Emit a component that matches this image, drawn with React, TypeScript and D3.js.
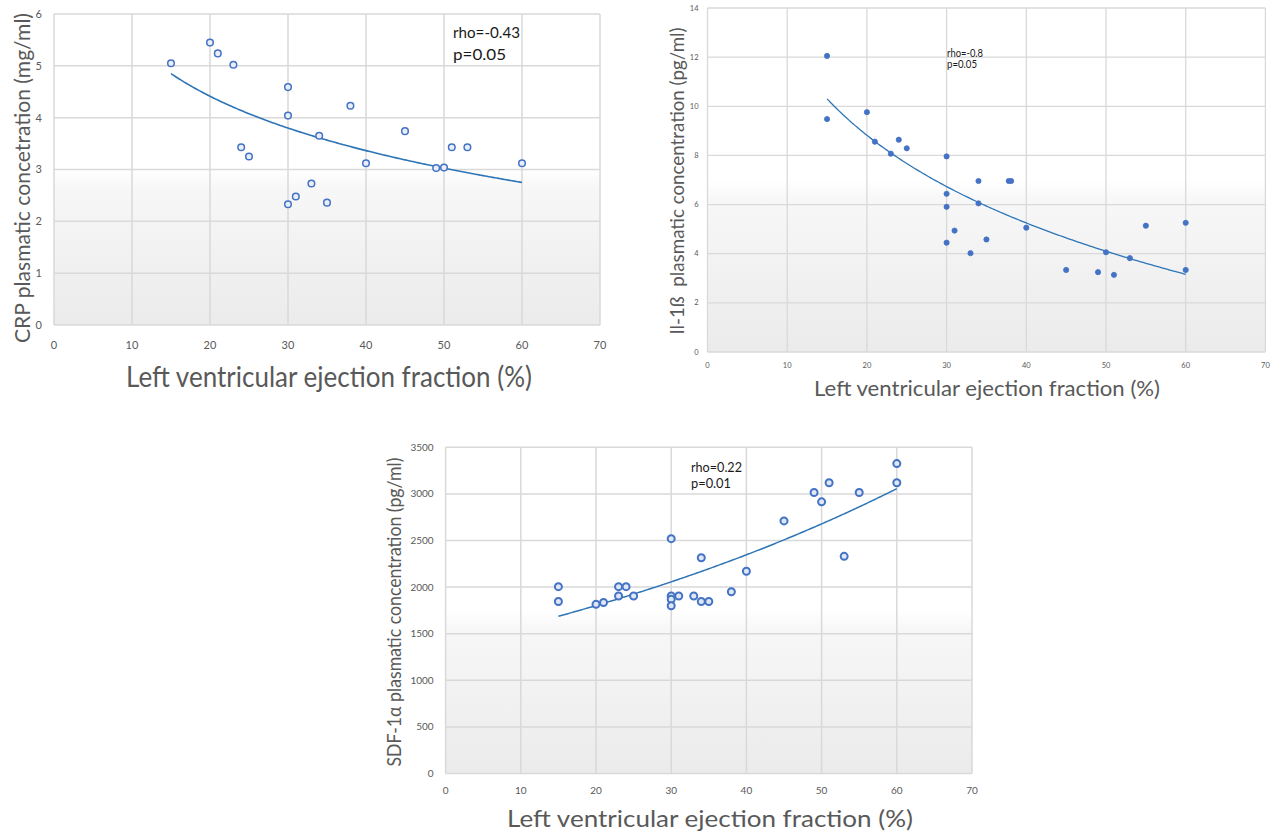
import * as d3 from "d3";
import React from "react";

// ---- data ----
const xTicks = [0, 10, 20, 30, 40, 50, 60, 70];

const crpYTicks = [0, 1, 2, 3, 4, 5, 6];
const crpX = [15, 20, 21, 23, 30, 30, 24, 25, 34, 38, 40, 45, 49, 50, 51, 53, 60, 33, 31, 30, 35];
const crpY = [5.05, 5.45, 5.24, 5.02, 4.59, 4.04, 3.43, 3.25, 3.65, 4.23, 3.12, 3.74, 3.03, 3.04, 3.43, 3.43, 3.12, 2.73, 2.48, 2.33, 2.36];

const il1bYTicks = [0, 2, 4, 6, 8, 10, 12, 14];
const il1bX = [15, 15, 20, 21, 23, 24, 25, 30, 30, 30, 30, 31, 33, 34, 34, 35, 37.8, 38.1, 40, 45, 49, 50, 51, 53, 55, 60, 60];
const il1bY = [12.05, 9.48, 9.76, 8.56, 8.07, 8.64, 8.29, 7.96, 6.44, 5.91, 4.45, 4.94, 4.02, 6.96, 6.05, 4.58, 6.96, 6.96, 5.06, 3.34, 3.25, 4.06, 3.14, 3.82, 5.14, 5.26, 3.34];

const sdfYTicks = [0, 500, 1000, 1500, 2000, 2500, 3000, 3500];
const sdfX = [15, 15, 20, 21, 23, 23, 24, 25, 30, 30, 30, 30, 31, 33, 34, 34, 35, 38, 40, 45, 49, 50, 51, 53, 55, 60, 60];
const sdfY = [2005, 1845, 1815, 1835, 2005, 1905, 2005, 1905, 2520, 1905, 1870, 1800, 1905, 1905, 2315, 1845, 1845, 1950, 2170, 2710, 3015, 2915, 3120, 2330, 3015, 3325, 3120];

const FONT = "Lato, 'Open Sans', sans-serif";
const BLUE = "#4472c4";
const TREND = "#2e75b6";
const GRID = "#d9d9d9";
const LABEL = "#595959";

// least squares fits, same as the spreadsheet trendlines
function fitLog(xs: number[], ys: number[]) {
	const lx = xs.map(Math.log);
	const mx = d3.mean(lx)!;
	const my = d3.mean(ys)!;
	let sxy = 0;
	let sxx = 0;
	lx.forEach((v, i) => {
		sxy += (v - mx) * (ys[i] - my);
		sxx += (v - mx) * (v - mx);
	});
	const b = sxy / sxx;
	const a = my - b * mx;
	return (x: number) => a + b * Math.log(x);
}

function fitExp(xs: number[], ys: number[]) {
	const ly = ys.map(Math.log);
	const mx = d3.mean(xs)!;
	const my = d3.mean(ly)!;
	let sxy = 0;
	let sxx = 0;
	xs.forEach((v, i) => {
		sxy += (v - mx) * (ly[i] - my);
		sxx += (v - mx) * (v - mx);
	});
	const b = sxy / sxx;
	const a = my - b * mx;
	return (x: number) => Math.exp(a + b * x);
}

type Layout = {
	left: number;
	right: number;
	top: number;
	bottom: number;
	tickSize: number;
	yTickGap: number;
	xTickGap: number;
	grid: number;
	trend: number;
	yLabel: { x: number; cy: number; len: number; size: number };
	xLabel: { cx: number; y: number; len: number; size: number };
	note: { x: number; y1: number; y2: number; size: number; len1: number; len2: number };
	dot: { r: number; sw: number; fill: string };
};

type PanelProps = {
	id: string;
	xs: number[];
	ys: number[];
	yTicks: number[];
	fit: "log" | "exp";
	yTitle: string;
	notes: [string, string];
	lay: Layout;
};

const Panel = ({ id, xs, ys, yTicks, fit, yTitle, notes, lay }: PanelProps) => {
	const x = d3.scaleLinear().domain([0, 70]).range([lay.left, lay.right]);
	const y = d3
		.scaleLinear()
		.domain([0, d3.max(yTicks)!])
		.range([lay.bottom, lay.top]);

	const f = fit === "log" ? fitLog(xs, ys) : fitExp(xs, ys);
	const [x0, x1] = d3.extent(xs) as [number, number];
	const line = d3
		.line<number>()
		.x((d) => x(d))
		.y((d) => y(f(d)));
	const samples = d3.range(x0, x1 + 0.001, 0.25);

	return (
		<g>
			<defs>
				<linearGradient id={`bg-${id}`} x1="0" y1="0" x2="0" y2="1">
					<stop offset="0" stopColor="#ffffff" />
					<stop offset="0.5" stopColor="#ffffff" />
					<stop offset="0.56" stopColor="#f7f7f7" />
					<stop offset="1" stopColor="#ebebeb" />
				</linearGradient>
			</defs>
			<rect x={lay.left} y={lay.top} width={lay.right - lay.left} height={lay.bottom - lay.top} fill={`url(#bg-${id})`} />
			{yTicks.map((t) => (
				<line key={`gy${t}`} x1={lay.left} x2={lay.right} y1={y(t)} y2={y(t)} stroke={GRID} strokeWidth={lay.grid} />
			))}
			{xTicks.map((t) => (
				<line key={`gx${t}`} x1={x(t)} x2={x(t)} y1={lay.top} y2={lay.bottom} stroke={GRID} strokeWidth={lay.grid} />
			))}
			{yTicks.map((t) => (
				<text key={`ty${t}`} x={lay.left - lay.yTickGap} y={y(t)} dy="0.35em" textAnchor="end" fontSize={lay.tickSize} fill={LABEL} fontFamily={FONT}>
					{t}
				</text>
			))}
			{xTicks.map((t) => (
				<text key={`tx${t}`} x={x(t)} y={lay.bottom + lay.xTickGap} dy="0.35em" textAnchor="middle" fontSize={lay.tickSize} fill={LABEL} fontFamily={FONT}>
					{t}
				</text>
			))}

			<path d={line(samples) || ""} fill="none" stroke={TREND} strokeWidth={lay.trend} />

			{xs.map((v, i) => (
				<circle key={i} cx={x(v)} cy={y(ys[i])} r={lay.dot.r} fill={lay.dot.fill} stroke={BLUE} strokeWidth={lay.dot.sw} />
			))}

			<text x={lay.note.x} y={lay.note.y1} fontSize={lay.note.size} fontFamily={FONT} fill="#1a1a1a" textLength={lay.note.len1} lengthAdjust="spacingAndGlyphs">
				{notes[0]}
			</text>
			<text x={lay.note.x} y={lay.note.y2} fontSize={lay.note.size} fontFamily={FONT} fill="#1a1a1a" textLength={lay.note.len2} lengthAdjust="spacingAndGlyphs">
				{notes[1]}
			</text>

			<text
				transform={`translate(${lay.yLabel.x},${lay.yLabel.cy}) rotate(-90)`}
				textAnchor="middle"
				fontSize={lay.yLabel.size}
				fontFamily={FONT}
				fill={LABEL}
				textLength={lay.yLabel.len}
				lengthAdjust="spacingAndGlyphs"
				style={{ whiteSpace: "pre" }}
			>
				{yTitle}
			</text>
			<text x={lay.xLabel.cx} y={lay.xLabel.y} textAnchor="middle" fontSize={lay.xLabel.size} fontFamily={FONT} fill={LABEL} textLength={lay.xLabel.len} lengthAdjust="spacingAndGlyphs">
				Left ventricular ejection fraction (%)
			</text>
		</g>
	);
};

const crpLayout: Layout = {
	left: 54,
	right: 600,
	top: 14,
	bottom: 325,
	tickSize: 11,
	yTickGap: 12,
	xTickGap: 20,
	grid: 1.5,
	trend: 1.6,
	yLabel: { x: 30, cy: 178, len: 330, size: 22 },
	xLabel: { cx: 329, y: 387, len: 406, size: 29 },
	note: { x: 453, y1: 38, y2: 60, size: 16, len1: 67, len2: 53 },
	dot: { r: 3.3, sw: 1.5, fill: "#e9eef7" },
};

const il1bLayout: Layout = {
	left: 707.5,
	right: 1265.4,
	top: 8,
	bottom: 352,
	tickSize: 7.5,
	yTickGap: 9,
	xTickGap: 13,
	grid: 1.3,
	trend: 1.3,
	yLabel: { x: 684, cy: 181, len: 307, size: 20 },
	xLabel: { cx: 987, y: 396, len: 346, size: 21 },
	note: { x: 947, y1: 56.5, y2: 67.5, size: 11.5, len1: 36, len2: 30 },
	dot: { r: 2.6, sw: 0.8, fill: BLUE },
};

const sdfLayout: Layout = {
	left: 445.6,
	right: 972,
	top: 447.3,
	bottom: 773.5,
	tickSize: 10,
	yTickGap: 12,
	xTickGap: 17,
	grid: 1.5,
	trend: 1.5,
	yLabel: { x: 401, cy: 612, len: 309, size: 20 },
	xLabel: { cx: 710, y: 827, len: 406, size: 23 },
	note: { x: 691, y1: 472, y2: 488, size: 13, len1: 51, len2: 40 },
	dot: { r: 3.5, sw: 2, fill: "#dfe7f5" },
};

export default function App() {
	return (
		<svg width={1272} height={832} viewBox="0 0 1272 832" style={{ position: "absolute", left: 0, top: 0, background: "#fff" }}>
			<Panel id="crp" xs={crpX} ys={crpY} yTicks={crpYTicks} fit="log" yTitle="CRP plasmatic concetration (mg/ml)" notes={["rho=-0.43", "p=0.05"]} lay={crpLayout} />
			<Panel id="il1b" xs={il1bX} ys={il1bY} yTicks={il1bYTicks} fit="log" yTitle="Il-1ß  plasmatic concentration (pg/ml)" notes={["rho=-0.8", "p=0.05"]} lay={il1bLayout} />
			<Panel id="sdf" xs={sdfX} ys={sdfY} yTicks={sdfYTicks} fit="exp" yTitle="SDF-1α plasmatic concentration (pg/ml)" notes={["rho=0.22", "p=0.01"]} lay={sdfLayout} />
		</svg>
	);
}
